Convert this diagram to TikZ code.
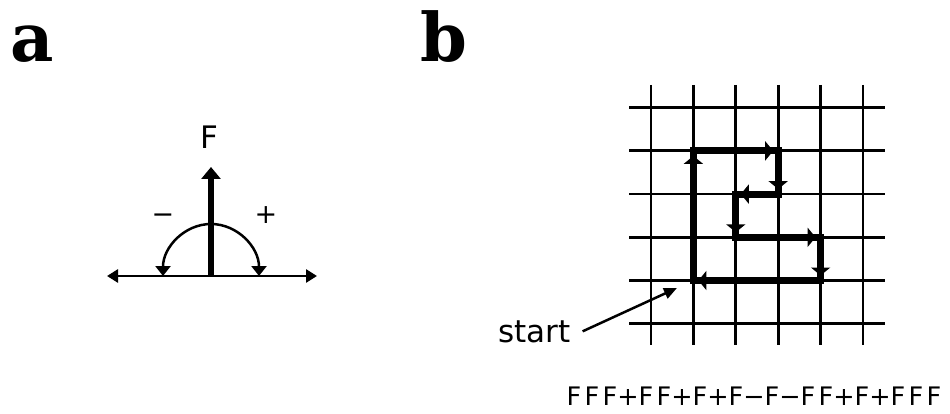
\documentclass[tikz,border=0pt]{standalone}
\usepackage{fontspec}
\newfontfamily\sansfam{DejaVu Sans}
\newfontfamily\panelfam{DejaVu Serif}
\usetikzlibrary{arrows.meta}
% one fixed-width cell per symbol of the turtle string
\newcommand\glyphcell[1]{\makebox[18pt]{#1}}

\begin{document}
\begin{tikzpicture}[x=1pt,y=-1pt,
  panel/.style={font=\panelfam\bfseries\fontsize{67}{67}\selectfont, inner sep=0pt, anchor=base west},
  lbl/.style={font=\sansfam\fontsize{31}{31}\selectfont, inner sep=0pt},
  sign/.style={font=\sansfam\fontsize{27}{27}\selectfont, inner sep=0pt, anchor=base},
  seq/.style={font=\sansfam\fontsize{25.5}{25.5}\selectfont, inner sep=0pt, anchor=base},
  axisline/.style={line width=2.7pt, {Triangle[width=13pt,length=11pt]}-{Triangle[width=13pt,length=11pt]}},
  heading/.style={line width=6.5pt, -{Triangle[width=19pt,length=12pt]}},
  turn/.style={line width=2.5pt, {Triangle[width=15pt,length=10pt]}-{Triangle[width=15pt,length=10pt]}},
  gridline/.style={line width=2.8pt},
  trail/.style={line width=7pt, line join=miter},
  trailtip/.style={line width=7pt, shorten >=5pt, -{Triangle[width=19pt,length=8pt]}},
  pointer/.style={line width=2.5pt, -{Triangle[width=11pt,length=13pt]}}
]
\useasboundingbox (0,0) rectangle (950,414);

% ---------- panel a: turtle heading and turns ----------
\node[panel] (pa) at (10,62) {a};
\coordinate (axL) at (107,276);
\coordinate (axR) at (317,276);
\coordinate (org) at (211,276);
\coordinate (fwd) at (211,167);
\draw[axisline] (axL) -- (axR);
\draw[heading] (org) -- (fwd);
\draw[turn] (163,276) arc[start angle=180, end angle=360, x radius=48, y radius=52];
\node[lbl] (flabel) at (209,137) {F};
\node[sign] (minus) at (163,223) {−};
\node[sign] (plus) at (266,223) {+};

% ---------- panel b: path on a square grid ----------
\node[panel] (pb) at (420,62) {b};
\foreach \i in {0,...,5} {
  \draw[gridline] ({651+42.4*\i},85) -- ({651+42.4*\i},345);
  \draw[gridline] (629,{107.7+43.2*\i}) -- (885,{107.7+43.2*\i});
}
\coordinate (s)  at (693.4,280.5);
\coordinate (t1) at (693.4,150.9);
\coordinate (t2) at (778.2,150.9);
\coordinate (t3) at (778.2,194.1);
\coordinate (t4) at (735.8,194.1);
\coordinate (t5) at (735.8,237.3);
\coordinate (t6) at (820.6,237.3);
\coordinate (t7) at (820.6,280.5);
\draw[trail] (s) -- (t1) -- (t2) -- (t3) -- (t4) -- (t5) -- (t6) -- (t7) -- cycle;
\foreach \a/\b in {s/t1, t1/t2, t2/t3, t3/t4, t4/t5, t5/t6, t6/t7, t7/s}
  \draw[trailtip] (\a) -- (\b);

\node[lbl, anchor=base west] (startlbl) at (498,342) {start};
\coordinate (startpt) at (677,288);
\draw[pointer] ([xshift=12pt]startlbl.east) -- (startpt);

\node[seq] (code) at (754,405) {\glyphcell{F}\glyphcell{F}\glyphcell{F}\glyphcell{+}\glyphcell{F}\glyphcell{F}\glyphcell{+}\glyphcell{F}\glyphcell{+}\glyphcell{F}\glyphcell{−}\glyphcell{F}\glyphcell{−}\glyphcell{F}\glyphcell{F}\glyphcell{+}\glyphcell{F}\glyphcell{+}\glyphcell{F}\glyphcell{F}\glyphcell{F}};
\end{tikzpicture}
\end{document}
